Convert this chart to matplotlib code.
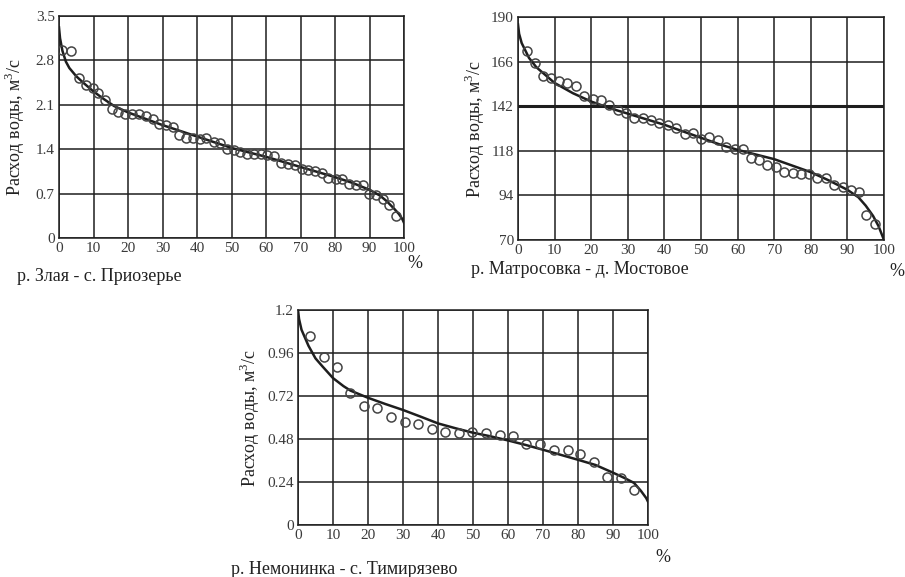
import numpy as np
import matplotlib.pyplot as plt

plt.rcParams['font.family'] = ['Liberation Serif', 'DejaVu Serif']
plt.rcParams['mathtext.fontset'] = 'custom'
plt.rcParams['mathtext.rm'] = 'Liberation Serif'
plt.rcParams['font.size'] = 10

# --- р. Злая - с. Приозерье ---
zl_obs_x = [1.0, 3.6, 5.7, 7.8, 9.8, 11.4, 13.3, 15.3, 17.2, 19.1, 21.2, 23.2, 25.2, 27.2,
            29.1, 31.0, 32.9, 34.9, 36.8, 38.8, 40.8, 42.7, 44.8, 46.7, 48.7, 50.7, 52.6,
            54.5, 56.5, 58.5, 60.4, 62.4, 64.4, 66.3, 68.4, 70.3, 72.2, 74.3, 76.2, 78.1,
            80.2, 82.1, 84.0, 86.1, 88.0, 89.9, 91.9, 93.8, 95.6, 97.7]
zl_obs_y = [2.97, 2.95, 2.52, 2.42, 2.36, 2.29, 2.17, 2.03, 1.98, 1.96, 1.96, 1.96, 1.92, 1.87,
            1.79, 1.78, 1.75, 1.62, 1.58, 1.58, 1.56, 1.57, 1.51, 1.49, 1.40, 1.38, 1.36,
            1.33, 1.33, 1.33, 1.31, 1.30, 1.18, 1.17, 1.15, 1.09, 1.07, 1.06, 1.03, 0.95,
            0.93, 0.93, 0.85, 0.84, 0.83, 0.70, 0.68, 0.61, 0.52, 0.34]
zl_fit_x = [0, 0.3, 1, 2, 3, 5, 7, 10, 13, 16, 20, 25, 30, 35, 40, 45, 50, 55, 60, 65, 70,
            75, 80, 85, 90, 93, 95, 97, 98.5, 99.5, 100]
zl_fit_y = [3.32, 3.15, 2.95, 2.78, 2.68, 2.55, 2.45, 2.31, 2.19, 2.08, 1.98, 1.88, 1.78,
            1.69, 1.60, 1.51, 1.42, 1.35, 1.28, 1.20, 1.12, 1.04, 0.96, 0.87, 0.76, 0.67,
            0.58, 0.47, 0.38, 0.30, 0.24]

# --- р. Матросовка - д. Мостовое ---
mt_obs_x = [2.4, 4.7, 6.8, 8.9, 11.2, 13.5, 15.8, 18.1, 20.5, 22.6, 24.9, 27.2, 29.5, 31.8,
            34.1, 36.4, 38.6, 40.9, 43.2, 45.5, 47.8, 50.0, 52.3, 54.6, 56.9, 59.2, 61.5,
            63.7, 65.8, 68.1, 70.4, 72.7, 75.0, 77.3, 79.5, 81.8, 84.1, 86.4, 88.7, 90.9,
            93.2, 95.2, 97.5]
mt_obs_y = [171.7, 165.3, 158.1, 157.2, 155.4, 154.4, 152.7, 147.4, 146.1, 145.6, 142.9,
            140.2, 138.6, 135.9, 135.4, 134.8, 132.7, 131.8, 130.5, 127.0, 127.7, 124.1,
            125.2, 123.7, 120.2, 118.9, 118.9, 114.2, 113.3, 110.3, 109.4, 106.7, 106.2,
            105.5, 105.5, 103.1, 103.5, 99.6, 98.3, 96.9, 95.6, 83.4, 78.4]
mt_fit_x = [0, 0.3, 1, 3, 5, 10, 15, 20, 25, 30, 35, 40, 45, 50, 55, 60, 65, 70, 75, 80,
            85, 90, 93, 95, 97, 98.5, 99.5, 100]
mt_fit_y = [186, 181, 176, 168, 163, 154.5, 149, 144.5, 141, 138, 135, 132, 128.5, 125,
            121.5, 118.5, 116, 113.5, 110, 106.5, 102, 97, 93, 88.5, 83, 77.5, 72.5, 70]

# --- р. Немонинка - с. Тимирязево ---
nm_obs_x = [3.5, 7.3, 11.2, 14.9, 18.9, 22.7, 26.7, 30.7, 34.4, 38.3, 42.1, 46.0, 49.8,
            53.6, 57.6, 61.4, 65.2, 69.0, 73.0, 77.0, 80.7, 84.6, 88.4, 92.2, 96.0]
nm_obs_y = [1.057, 0.940, 0.880, 0.735, 0.664, 0.651, 0.605, 0.573, 0.562, 0.534, 0.521,
            0.515, 0.517, 0.512, 0.502, 0.495, 0.454, 0.454, 0.417, 0.417, 0.396, 0.353,
            0.266, 0.262, 0.195]
nm_fit_x = [0, 0.3, 1, 3, 5, 7, 10, 13, 15, 20, 25, 30, 35, 40, 45, 50, 55, 60, 65, 70,
            75, 80, 85, 90, 93, 96, 98, 99.5, 100]
nm_fit_y = [1.2, 1.15, 1.09, 1.0, 0.93, 0.885, 0.82, 0.775, 0.75, 0.71, 0.675, 0.642,
            0.605, 0.567, 0.54, 0.515, 0.495, 0.472, 0.447, 0.42, 0.392, 0.364, 0.335,
            0.292, 0.265, 0.235, 0.19, 0.15, 0.13]

x_ticks = list(range(0, 101, 10))
zl_yticks = [0, 0.7, 1.4, 2.1, 2.8, 3.5]
zl_ylabels = ['0', '0.7', '1.4', '2.1', '2.8', '3.5']
mt_yticks = [70, 94, 118, 142, 166, 190]
mt_ylabels = ['70', '94', '118', '142', '166', '190']
nm_yticks = [0, 0.24, 0.48, 0.72, 0.96, 1.2]
nm_ylabels = ['0', '0.24', '0.48', '0.72', '0.96', '1.2']

ink = '#1e1e1e'

fig = plt.figure(figsize=(9.05, 5.77), dpi=100)


def panel(rect, ox, oy, fx, fy, yticks, ylabels, caption, cap_xy, pct_xy, ylab_x):
    ax = fig.add_axes(rect)
    ax.set_xlim(0, 100)
    ax.set_ylim(yticks[0], yticks[-1])
    ax.set_xticks(x_ticks)
    ax.set_yticks(yticks)
    ax.set_yticklabels(ylabels)
    ax.grid(True, color=ink, linewidth=1.1)
    ax.set_axisbelow(True)
    for s in ax.spines.values():
        s.set_color(ink)
        s.set_linewidth(1.1)
    ax.tick_params(length=0, pad=3, labelsize=11, colors='#3a3a3a')
    ax.plot(fx, fy, color=ink, linewidth=1.8, zorder=3)
    ax.plot(ox, oy, 'o', markersize=6.5, markerfacecolor='none',
            markeredgecolor='#444444', markeredgewidth=1.1, zorder=4)
    ax.set_ylabel('Расход воды, м$^3$/с', fontsize=13, color='#222222')
    ax.yaxis.set_label_coords(ylab_x, 0.5)
    fig.text(cap_xy[0], cap_xy[1], caption, fontsize=13, color='#222222',
             ha='left', va='center')
    fig.text(pct_xy[0], pct_xy[1], '%', fontsize=13, color='#222222',
             ha='center', va='center')
    return ax


panel([59 / 905, 1 - 238 / 577, 345 / 905, 222 / 577],
      zl_obs_x, zl_obs_y, zl_fit_x, zl_fit_y, zl_yticks, zl_ylabels,
      'р. Злая - с. Приозерье', (17 / 905, 1 - 277 / 577), (415 / 905, 1 - 264 / 577), -0.093)

ax2 = panel([518 / 905, 1 - 240 / 577, 366 / 905, 223 / 577],
            mt_obs_x, mt_obs_y, mt_fit_x, mt_fit_y, mt_yticks, mt_ylabels,
            'р. Матросовка - д. Мостовое', (471 / 905, 1 - 270 / 577), (897 / 905, 1 - 271 / 577), -0.085)
ax2.axhline(142, color=ink, linewidth=2.2, zorder=2)

panel([298 / 905, 1 - 525 / 577, 350 / 905, 215 / 577],
      nm_obs_x, nm_obs_y, nm_fit_x, nm_fit_y, nm_yticks, nm_ylabels,
      'р. Немонинка - с. Тимирязево', (231 / 905, 1 - 569 / 577), (663 / 905, 1 - 557 / 577), -0.103)

fig.savefig('out.png', dpi=100)
